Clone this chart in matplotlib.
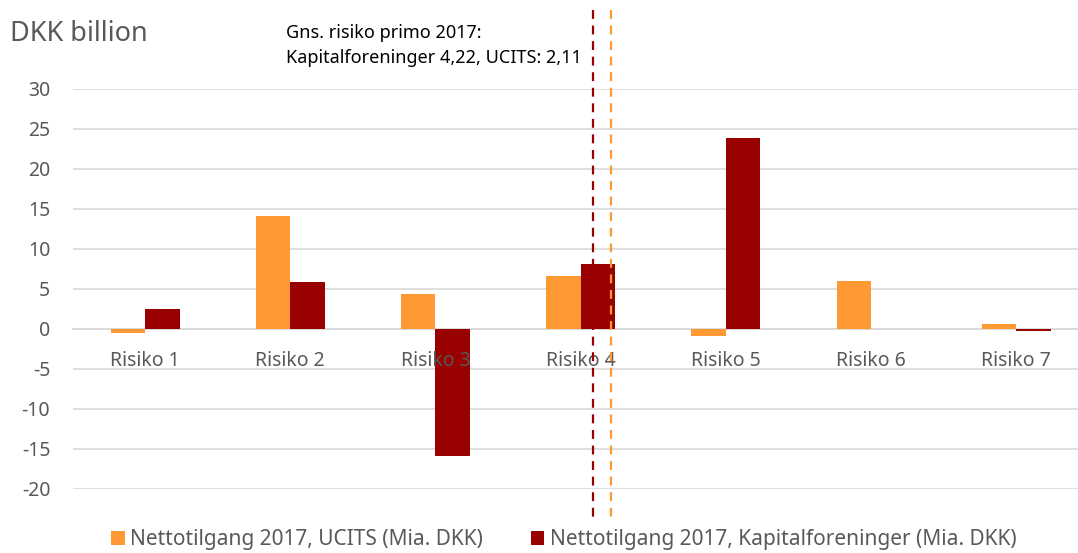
import matplotlib.pyplot as plt
import matplotlib.transforms as mtransforms
import numpy as np

plt.rcParams['font.family'] = ['Noto Sans', 'DejaVu Sans']

categories = ['Risiko 1', 'Risiko 2', 'Risiko 3', 'Risiko 4', 'Risiko 5', 'Risiko 6', 'Risiko 7']
ucits = [-0.5, 14.1, 4.4, 6.6, -0.9, 6.0, 0.6]
kapital = [2.5, 5.9, -15.9, 8.1, 23.9, 0.0, -0.2]
yticks = [30, 25, 20, 15, 10, 5, 0, -5, -10, -15, -20]
# average risk markers, placed where the reference draws them (category index units)
avg_kapital_x = 3.085
avg_ucits_x = 3.21

orange = '#FF9933'
darkred = '#990000'
grey = '#595959'

W, H = 1078, 553
fig = plt.figure(figsize=(W / 100, H / 100), dpi=100)
ax = fig.add_axes([72.5 / W, 1 - 489 / H, 1 - 72.5 / W, 400 / H])

x = np.arange(len(categories))
bw = 0.238
ax.bar(x - bw / 2, ucits, bw, color=orange, label='Nettotilgang 2017, UCITS (Mia. DKK)', zorder=3)
ax.bar(x + bw / 2, kapital, bw, color=darkred,
       label='Nettotilgang 2017, Kapitalforeninger (Mia. DKK)', zorder=3)

ax.set_ylim(-20, 30)
ax.set_xlim(-0.5, -0.5 + (W - 72.5) / 145.2)
ax.set_yticks(yticks)
ax.set_yticklabels([str(v) for v in yticks], fontsize=14, color=grey)
ax.yaxis.grid(True, color='#d9d9d9', linewidth=1.2, zorder=0)
ax.set_axisbelow(True)
ax.tick_params(axis='y', length=0, pad=16)
ax.set_xticks([])
for s in ['top', 'right', 'left']:
    ax.spines[s].set_visible(False)
ax.spines['bottom'].set_position(('data', 0))
ax.spines['bottom'].set_color('#d9d9d9')
ax.spines['bottom'].set_linewidth(1.2)
ax.spines['bottom'].set_zorder(2)

for xi, name in zip(x, categories):
    ax.annotate(name, (xi, 0), xytext=(0, -23), textcoords='offset points',
                ha='center', va='center', fontsize=14, color=grey, zorder=4)

trans = mtransforms.blended_transform_factory(ax.transData, ax.transAxes)
for xv, c in [(avg_kapital_x, darkred), (avg_ucits_x, orange)]:
    ax.plot([xv, xv], [1 + 79 / 400, -33 / 400], transform=trans, color=c,
            linestyle=(0, (4, 3)), linewidth=1.6, clip_on=False, zorder=5)

fig.text(10 / W, 1 - 34 / H, 'DKK billion', fontsize=19.5, color=grey, va='center', ha='left')
fig.text(286 / W, 1 - 33 / H, 'Gns. risiko primo 2017:', fontsize=13, color='black', va='center')
fig.text(286 / W, 1 - 58 / H, 'Kapitalforeninger 4,22, UCITS: 2,11', fontsize=13, color='black', va='center')

fig.legend(loc='center', bbox_to_anchor=(0.523, 1 - 540 / H), ncol=2, frameon=False,
           fontsize=15, handlelength=0.65, handleheight=0.65, handletextpad=0.25,
           columnspacing=2.3, labelcolor=grey)

fig.savefig('out.png', dpi=100)
